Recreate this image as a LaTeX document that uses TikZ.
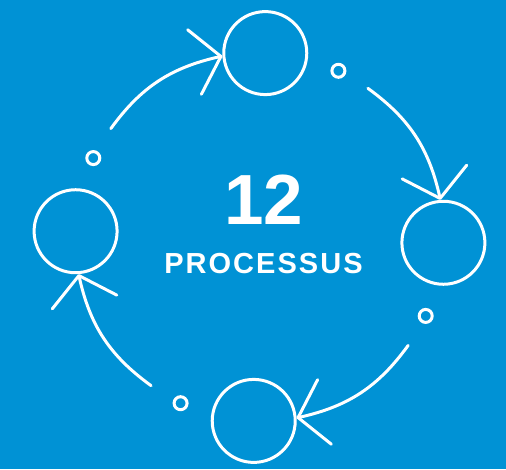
\documentclass[tikz,border=0pt]{standalone}
\usepackage{fontspec}
\setmainfont{Liberation Sans}
\usetikzlibrary{arrows.meta,bending}
\definecolor{cycleblue}{RGB}{0,146,213}

\begin{document}
\begin{tikzpicture}[x=1pt,y=1pt,
    stage/.style={draw=white, line width=3pt, circle, minimum size=83pt, inner sep=0pt},
    dot/.style={draw=white, line width=3pt, circle, minimum size=13pt, inner sep=0pt},
    flow/.style={draw=white, line width=3pt, line cap=round,
      -{Straight Barb[flex, round, length=27pt, width=66pt]}}]
  \fill[cycleblue] (-259.5,-232) rectangle (246.5,237);
  \useasboundingbox (-259.5,-232) rectangle (246.5,237);

  % the four stages on a ring of radius 184
  \node[stage] (top) at (88.2:184) {};
  \node[stage] (right) at (-1.8:184) {};
  \node[stage] (bottom) at (-91.8:184) {};
  \node[stage] (left) at (178.2:184) {};

  \node[dot] (dottop) at (64.6:184) {};
  \node[dot] (dotright) at (-25.4:184) {};
  \node[dot] (dotbottom) at (-115.4:184) {};
  \node[dot] (dotleft) at (154.6:184) {};

  \coordinate (fromleft) at (143.9:184);
  \coordinate (fromtop) at (53.9:184);
  \coordinate (fromright) at (-36.1:184);
  \coordinate (frombottom) at (233.9:184);

  \draw[flow] (fromleft) to[bend left=21] (top.184.9);
  \draw[flow] (fromtop) to[bend left=21] (right.94.9);
  \draw[flow] (fromright) to[bend left=21] (bottom.4.9);
  \draw[flow] (frombottom) to[bend left=21] (left.274.9);

  \node[text=white, inner sep=0pt, anchor=base,
    font=\bfseries\fontsize{71}{71}\selectfont] (count) at (4,13) {12};
  \node[text=white, inner sep=0pt, anchor=base,
    font=\bfseries\fontsize{29}{29}\selectfont\addfontfeature{LetterSpace=7}] (label) at (4,-36) {PROCESSUS};
\end{tikzpicture}
\end{document}
